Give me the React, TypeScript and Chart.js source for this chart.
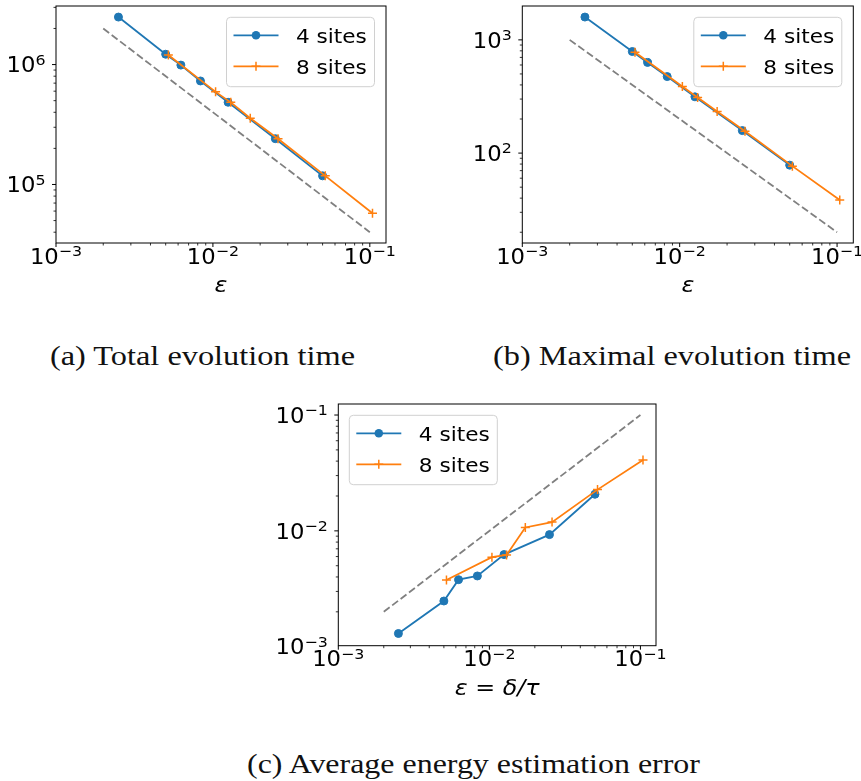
import React, { useEffect, useLayoutEffect, useRef, useState } from "react";
import { Chart, registerables } from "chart.js";

Chart.register(...registerables);

// ---------------- data ----------------
const BLUE = "#1f77b4";
const ORANGE = "#ff7f0e";
const GRAY = "#808080";

const eps4 = [0.0025, 0.005, 0.00625, 0.00833, 0.0125, 0.025, 0.05];
const eps8 = [0.0052, 0.0104, 0.013, 0.0173, 0.026, 0.052, 0.104];
const refEps = [0.002, 0.1];

const totalTime4 = [2.49e6, 1.22e6, 9.9e5, 7.3e5, 4.85e5, 2.41e5, 1.18e5];
const totalTime8 = [1.2e6, 5.92e5, 4.84e5, 3.57e5, 2.41e5, 1.18e5, 5.75e4];
const totalTimeRef = [2e6, 4e4];

const maxTime4 = [1590, 789, 632, 474, 314, 158, 78.3];
const maxTime8 = [778, 388, 310, 233, 156, 76.7, 38.5];
const maxTimeRef = [1000, 20];

const energyErr4 = [1.3e-3, 2.48e-3, 3.79e-3, 4.08e-3, 6.24e-3, 9.28e-3, 2.07e-2];
const energyErr8 = [3.77e-3, 5.92e-3, 6.19e-3, 1.07e-2, 1.19e-2, 2.27e-2, 4.09e-2];
const energyErrRef = [0.002, 0.1];

const xTickExps = [-3, -2, -1];
const yTickExpsA = [5, 6];
const yTickExpsB = [2, 3];
const yTickExpsC = [-3, -2, -1];

const seriesLabels = ["4 sites", "8 sites"];
const captionA = "(a) Total evolution time";
const captionB = "(b) Maximal evolution time";
const captionC = "(c) Average energy estimation error";

// ---------------- helpers ----------------
const SX = 1.08;
const TICK_FONT = 21;
const FONT_FAMILY = '"DejaVu Sans"';

function scaledText(
  ctx: CanvasRenderingContext2D,
  text: string,
  x: number,
  y: number,
  font: string,
  align: "left" | "center" | "right"
) {
  ctx.save();
  ctx.font = font;
  ctx.textAlign = "left";
  ctx.textBaseline = "alphabetic";
  const w = ctx.measureText(text).width * SX;
  const x0 = align === "center" ? x - w / 2 : align === "right" ? x - w : x;
  ctx.translate(x0, y);
  ctx.scale(SX, 1);
  ctx.fillText(text, 0, 0);
  ctx.restore();
  return w;
}

function expText(e: number) {
  return e < 0 ? "\u2212" + String(-e) : String(e);
}

function drawPower(
  ctx: CanvasRenderingContext2D,
  e: number,
  x: number,
  baseline: number,
  align: "center" | "right"
) {
  const baseFont = `${TICK_FONT}px ${FONT_FAMILY}`;
  const expFont = `${TICK_FONT * 0.7}px ${FONT_FAMILY}`;
  ctx.save();
  ctx.font = baseFont;
  const wb = ctx.measureText("10").width * SX;
  ctx.font = expFont;
  const we = ctx.measureText(expText(e)).width * SX;
  ctx.restore();
  const total = wb + we;
  const x0 = align === "center" ? x - total / 2 : x - total;
  scaledText(ctx, "10", x0, baseline, baseFont, "left");
  scaledText(ctx, expText(e), x0 + wb, baseline - 7.6, expFont, "left");
}

const mplPlugin = {
  id: "mpl",
  afterDraw(chart: any, _args: any, opts: any) {
    const ctx: CanvasRenderingContext2D = chart.ctx;
    const { left, right, top, bottom } = chart.chartArea;
    const xs = chart.scales.x;
    const ys = chart.scales.y;
    ctx.save();
    ctx.strokeStyle = "#000";
    ctx.fillStyle = "#000";

    const within = (v: number, s: any) => v >= s.min * (1 - 1e-9) && v <= s.max * (1 + 1e-9);
    // ticks
    for (const [s, horiz] of [
      [xs, true],
      [ys, false],
    ] as [any, boolean][]) {
      const d0 = Math.floor(Math.log10(s.min));
      const d1 = Math.ceil(Math.log10(s.max));
      for (let d = d0; d <= d1; d++) {
        for (let k = 1; k <= 9; k++) {
          const v = k * Math.pow(10, d);
          if (!within(v, s)) continue;
          const p = s.getPixelForValue(v);
          const len = k === 1 ? 4 : 2.5;
          ctx.lineWidth = k === 1 ? 1 : 0.8;
          ctx.beginPath();
          if (horiz) {
            ctx.moveTo(p, bottom);
            ctx.lineTo(p, bottom + len);
          } else {
            ctx.moveTo(left, p);
            ctx.lineTo(left - len, p);
          }
          ctx.stroke();
        }
      }
    }
    // frame
    ctx.lineWidth = 1;
    ctx.strokeRect(left, top, right - left, bottom - top);

    // tick labels
    for (const e of opts.xExps as number[]) {
      const p = xs.getPixelForValue(Math.pow(10, e));
      drawPower(ctx, e, p, bottom + 20.5, "center");
    }
    for (const e of opts.yExps as number[]) {
      const p = ys.getPixelForValue(Math.pow(10, e));
      drawPower(ctx, e, left - 10.5, p + 7.7, "right");
    }
    // axis title
    scaledText(
      ctx,
      opts.xTitle,
      (left + right) / 2,
      bottom + 49,
      `italic ${TICK_FONT + 1}px ${FONT_FAMILY}`,
      "center"
    );

    // legend
    const bw = 148;
    const bh = 69.4;
    const bx = opts.legendPos === "ur" ? right - 11.5 - bw : left + 11;
    const by = top + 11.3;
    ctx.beginPath();
    (ctx as any).roundRect(bx, by, bw, bh, 4);
    ctx.fillStyle = "rgba(255,255,255,0.8)";
    ctx.fill();
    ctx.strokeStyle = "#d0d0d0";
    ctx.lineWidth = 1;
    ctx.stroke();
    const colors = [BLUE, ORANGE];
    for (let i = 0; i < 2; i++) {
      const cy = by + 18 + i * 31;
      ctx.strokeStyle = colors[i];
      ctx.lineWidth = 1.8;
      ctx.beginPath();
      ctx.moveTo(bx + 7, cy);
      ctx.lineTo(bx + 52, cy);
      ctx.stroke();
      const mx = bx + 29.5;
      if (i === 0) {
        ctx.fillStyle = BLUE;
        ctx.beginPath();
        ctx.arc(mx, cy, 4.3, 0, Math.PI * 2);
        ctx.fill();
      } else {
        ctx.lineWidth = 1.5;
        ctx.beginPath();
        ctx.moveTo(mx - 4.5, cy);
        ctx.lineTo(mx + 4.5, cy);
        ctx.moveTo(mx, cy - 4.5);
        ctx.lineTo(mx, cy + 4.5);
        ctx.stroke();
      }
      ctx.fillStyle = "#000";
      scaledText(ctx, seriesLabels[i], bx + 69.5, cy + 7.5, `20px ${FONT_FAMILY}`, "left");
    }
    ctx.restore();
  },
};

type PanelProps = {
  pos: { left: number; top: number; w: number; h: number };
  area: { l: number; t: number; r: number; b: number };
  xRange: [number, number];
  yRange: [number, number];
  ys4: number[];
  ys8: number[];
  ysRef: number[];
  yExps: number[];
  legendPos: "ur" | "ul";
  xTitle: string;
};

function Panel(props: PanelProps) {
  const ref = useRef<HTMLCanvasElement>(null);
  useEffect(() => {
    const canvas = ref.current!;
    const { pos, area } = props;
    const chart = new Chart(canvas, {
      type: "scatter",
      data: {
        datasets: [
          {
            data: refEps.map((x, i) => ({ x, y: props.ysRef[i] })),
            showLine: true,
            borderColor: GRAY,
            borderWidth: 1.8,
            borderDash: [7.4, 3.2],
            pointRadius: 0,
            order: 2,
          },
          {
            label: seriesLabels[0],
            data: eps4.map((x, i) => ({ x, y: props.ys4[i] })),
            showLine: true,
            borderColor: BLUE,
            backgroundColor: BLUE,
            borderWidth: 1.8,
            pointRadius: 4,
            pointBorderWidth: 1,
            pointStyle: "circle",
            order: 1,
          },
          {
            label: seriesLabels[1],
            data: eps8.map((x, i) => ({ x, y: props.ys8[i] })),
            showLine: true,
            borderColor: ORANGE,
            backgroundColor: ORANGE,
            borderWidth: 1.8,
            pointRadius: 4.5,
            pointBorderWidth: 1.5,
            pointStyle: "cross",
            order: 0,
          },
        ],
      } as any,
      options: {
        animation: false,
        responsive: false,
        maintainAspectRatio: false,
        events: [],
        layout: {
          padding: {
            left: area.l,
            top: area.t,
            right: pos.w - area.r,
            bottom: pos.h - area.b,
          },
        },
        scales: {
          x: { type: "logarithmic", min: props.xRange[0], max: props.xRange[1], display: false },
          y: { type: "logarithmic", min: props.yRange[0], max: props.yRange[1], display: false },
        },
        plugins: {
          legend: { display: false },
          tooltip: { enabled: false },
          mpl: {
            xExps: xTickExps,
            yExps: props.yExps,
            legendPos: props.legendPos,
            xTitle: props.xTitle,
          },
        } as any,
      },
      plugins: [mplPlugin],
    });
    return () => chart.destroy();
  }, []);
  const { pos } = props;
  return (
    <canvas
      ref={ref}
      width={pos.w}
      height={pos.h}
      style={{ position: "absolute", left: pos.left, top: pos.top, width: pos.w, height: pos.h }}
    />
  );
}

function Caption({ text, left, width, baseline }: { text: string; left: number; width: number; baseline: number }) {
  const ref = useRef<HTMLSpanElement>(null);
  const [sx, setSx] = useState(1);
  useLayoutEffect(() => {
    const w = ref.current!.getBoundingClientRect().width;
    if (w > 0) setSx(width / w);
  }, []);
  return (
    <div
      style={{
        position: "absolute",
        left,
        top: baseline - 23.5,
        whiteSpace: "nowrap",
        fontFamily: '"Liberation Serif", serif',
        fontSize: 28,
        lineHeight: "28px",
        color: "#111",
        transformOrigin: "0 0",
        transform: `scaleX(${sx})`,
      }}
    >
      <span ref={ref}>{text}</span>
    </div>
  );
}

export default function App() {
  return (
    <div style={{ position: "absolute", left: 0, top: 0, width: 861, height: 781, background: "#fff", overflow: "hidden" }}>
      <Panel
        pos={{ left: 0, top: 0, w: 430, h: 310 }}
        area={{ l: 56, t: 2, r: 386, b: 243 }}
        xRange={[1e-3, 0.1268]}
        yRange={[3.25e4, 3.08e6]}
        ys4={totalTime4}
        ys8={totalTime8}
        ysRef={totalTimeRef}
        yExps={yTickExpsA}
        legendPos="ur"
        xTitle="ε"
      />
      <Panel
        pos={{ left: 430, top: 0, w: 431, h: 310 }}
        area={{ l: 92.3, t: 2, r: 423.3, b: 243 }}
        xRange={[1e-3, 0.1268]}
        yRange={[16.07, 1991]}
        ys4={maxTime4}
        ys8={maxTime8}
        ysRef={maxTimeRef}
        yExps={yTickExpsB}
        legendPos="ur"
        xTitle="ε"
      />
      <Panel
        pos={{ left: 230, top: 380, w: 440, h: 330 }}
        area={{ l: 108.3, t: 24, r: 426, b: 265.7 }}
        xRange={[1e-3, 0.1268]}
        yRange={[1.02e-3, 0.1245]}
        ys4={energyErr4}
        ys8={energyErr8}
        ysRef={energyErrRef}
        yExps={yTickExpsC}
        legendPos="ul"
        xTitle="ε = δ/τ"
      />
      <Caption text={captionA} left={50} width={305} baseline={365} />
      <Caption text={captionB} left={493} width={358} baseline={365} />
      <Caption text={captionC} left={247} width={453} baseline={773} />
    </div>
  );
}
